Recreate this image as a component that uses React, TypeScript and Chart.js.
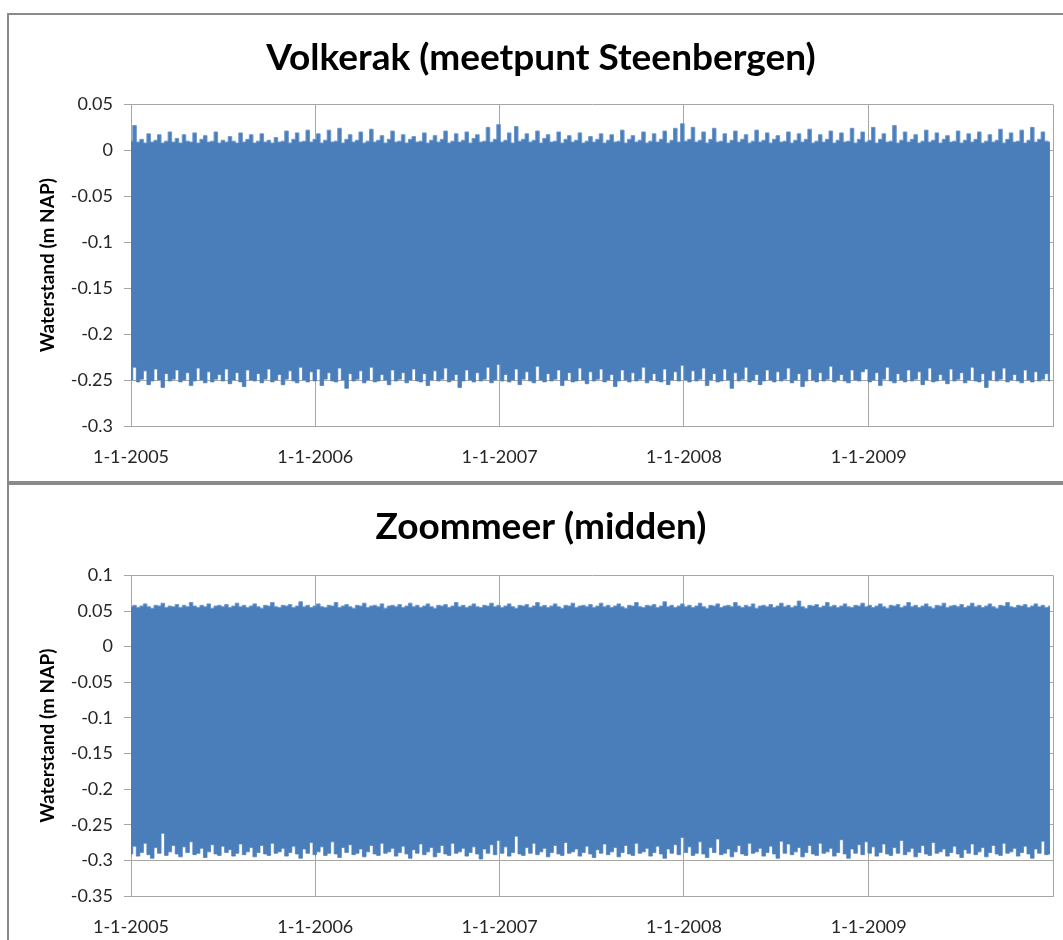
import { useEffect, useRef } from "react";
import { Chart, registerables } from "chart.js";

Chart.register(...registerables);

// x axis: days since 1-1-2005, one gridline per year
const YEAR_TICK_DAYS = [0, 365, 730, 1095, 1461, 1826];
const YEAR_TICK_LABELS = ["1-1-2005", "1-1-2006", "1-1-2007", "1-1-2008", "1-1-2009", ""];
const SAMPLE_STEP_DAYS = 7;

const VOLKERAK_TICKS = [-0.3, -0.25, -0.2, -0.15, -0.1, -0.05, 0, 0.05];
const ZOOMMEER_TICKS = [-0.35, -0.3, -0.25, -0.2, -0.15, -0.1, -0.05, 0, 0.05, 0.1];

// weekly highest / lowest water level, mm NAP
const VOLKERAK_HIGH = [
  10, 27, 9, 12, 8, 18, 9, 11, 17, 8, 10, 20, 9,
  13, 8, 17, 10, 9, 19, 8, 12, 16, 9, 10, 20, 8,
  11, 9, 15, 10, 8, 19, 9, 12, 17, 8, 10, 18, 9,
  11, 8, 14, 9, 10, 21, 8, 12, 19, 9, 10, 22, 9,
  12, 18, 8, 11, 22, 9, 10, 24, 8, 12, 17, 9, 11,
  20, 8, 10, 23, 9, 11, 16, 8, 12, 21, 9, 10, 17,
  8, 12, 15, 9, 10, 19, 8, 11, 16, 9, 12, 21, 8,
  10, 18, 9, 11, 20, 8, 13, 17, 9, 10, 25, 9, 12,
  28, 9, 11, 19, 8, 26, 10, 12, 18, 9, 11, 21, 8,
  13, 17, 9, 10, 20, 8, 12, 16, 9, 11, 19, 8, 10,
  15, 9, 12, 18, 8, 11, 17, 9, 10, 22, 8, 12, 16,
  9, 11, 20, 8, 10, 18, 9, 12, 21, 8, 11, 24, 9,
  29, 10, 12, 25, 9, 11, 20, 8, 12, 24, 9, 10, 18,
  8, 11, 21, 9, 12, 17, 8, 10, 22, 9, 11, 19, 8,
  12, 16, 9, 10, 20, 8, 11, 18, 9, 12, 23, 8, 10,
  17, 9, 12, 21, 8, 11, 19, 9, 10, 24, 8, 12, 20,
  9, 11, 25, 8, 12, 18, 9, 10, 27, 8, 11, 20, 9,
  12, 17, 8, 10, 22, 9, 11, 19, 8, 12, 16, 9, 10,
  21, 8, 11, 18, 9, 12, 20, 8, 10, 17, 9, 11, 23,
  8, 12, 19, 9, 10, 22, 8, 11, 25, 9, 12, 20, 10,
  9,
];

const VOLKERAK_LOW = [
  -250, -236, -252, -249, -240, -255, -251, -238, -250, -258, -243, -251, -249,
  -239, -252, -250, -242, -256, -251, -237, -250, -253, -241, -252, -249, -244,
  -251, -238, -254, -250, -242, -252, -257, -239, -250, -251, -243, -253, -249,
  -238, -252, -250, -244, -255, -249, -240, -251, -253, -236, -250, -252, -241,
  -251, -238, -256, -249, -242, -251, -252, -237, -250, -259, -243, -251, -249,
  -240, -253, -250, -236, -252, -251, -244, -250, -255, -239, -251, -249, -242,
  -253, -250, -238, -251, -252, -243, -256, -250, -240, -251, -249, -237, -252,
  -250, -244, -258, -251, -239, -250, -252, -242, -251, -249, -236, -253, -250,
  -233, -251, -244, -252, -250, -238, -255, -249, -241, -251, -253, -235, -250,
  -252, -243, -251, -249, -239, -256, -250, -242, -252, -251, -237, -250, -254,
  -241, -251, -249, -238, -252, -250, -244, -257, -251, -239, -250, -252, -242,
  -251, -249, -236, -253, -250, -243, -251, -252, -238, -255, -250, -241, -251,
  -234, -250, -252, -240, -251, -249, -237, -256, -250, -243, -252, -251, -238,
  -250, -259, -242, -251, -249, -236, -252, -250, -244, -255, -251, -239, -250,
  -252, -241, -251, -249, -237, -253, -250, -243, -257, -251, -238, -250, -252,
  -242, -251, -249, -235, -252, -250, -244, -251, -253, -239, -250, -251, -241,
  -238, -252, -250, -242, -256, -249, -236, -251, -253, -243, -250, -252, -239,
  -251, -249, -241, -255, -250, -237, -252, -251, -244, -250, -254, -238, -251,
  -249, -242, -253, -250, -236, -251, -252, -243, -258, -250, -240, -251, -249,
  -237, -252, -250, -244, -251, -253, -239, -250, -252, -241, -251, -249, -243,
  -251,
];

const ZOOMMEER_HIGH = [
  56, 58, 55, 57, 60, 56, 54, 58, 57, 61, 55, 57, 56,
  59, 55, 58, 56, 62, 57, 55, 58, 56, 60, 54, 57, 58,
  56, 59, 55, 57, 61, 56, 58, 55, 57, 60, 56, 54, 58,
  57, 62, 56, 55, 58, 57, 59, 55, 57, 63, 56, 58, 55,
  57, 60, 56, 55, 58, 57, 62, 55, 57, 59, 56, 54, 58,
  57, 61, 55, 57, 58, 56, 60, 54, 57, 58, 56, 59, 55,
  57, 61, 56, 58, 55, 57, 60, 56, 54, 58, 57, 59, 55,
  57, 62, 56, 58, 55, 57, 60, 56, 55, 58, 57, 61, 56,
  58, 55, 57, 60, 56, 54, 58, 57, 59, 55, 57, 62, 56,
  58, 55, 57, 60, 56, 54, 58, 57, 61, 55, 57, 58, 56,
  59, 55, 57, 61, 56, 58, 55, 57, 60, 56, 54, 58, 57,
  62, 56, 55, 58, 57, 59, 55, 57, 63, 56, 58, 55, 57,
  60, 56, 58, 55, 57, 61, 56, 54, 58, 57, 60, 55, 57,
  58, 56, 62, 57, 55, 58, 56, 60, 54, 57, 58, 56, 59,
  55, 57, 61, 56, 58, 55, 57, 64, 56, 54, 58, 57, 59,
  55, 57, 62, 56, 58, 55, 57, 60, 56, 55, 58, 57, 61,
  56, 58, 55, 57, 60, 56, 54, 58, 57, 59, 55, 57, 62,
  56, 58, 55, 57, 60, 56, 54, 58, 57, 61, 55, 57, 58,
  56, 59, 55, 57, 61, 56, 58, 55, 57, 60, 56, 54, 58,
  57, 62, 56, 55, 58, 57, 59, 55, 57, 60, 56, 58, 55,
  57,
];

const ZOOMMEER_LOW = [
  -291, -280, -294, -289, -276, -292, -297, -282, -290, -262, -293, -288, -279,
  -291, -295, -281, -289, -274, -292, -290, -283, -296, -288, -278, -291, -293,
  -280, -289, -285, -294, -290, -277, -292, -288, -282, -295, -289, -279, -291,
  -293, -276, -290, -288, -283, -294, -289, -280, -291, -297, -284, -290, -275,
  -292, -288, -281, -293, -290, -274, -291, -296, -282, -289, -278, -292, -290,
  -284, -295, -288, -279, -291, -293, -276, -290, -288, -283, -294, -289, -280,
  -291, -297, -285, -290, -277, -292, -288, -282, -295, -289, -279, -291, -293,
  -276, -290, -288, -283, -294, -289, -281, -291, -298, -284, -290, -278, -292,
  -272, -290, -281, -294, -289, -266, -291, -293, -282, -290, -276, -292, -288,
  -283, -295, -289, -279, -291, -293, -275, -290, -288, -284, -294, -289, -280,
  -291, -296, -285, -290, -277, -292, -288, -282, -295, -289, -279, -291, -293,
  -276, -290, -288, -283, -294, -289, -280, -291, -297, -284, -290, -278, -292,
  -268, -289, -281, -293, -290, -274, -291, -296, -282, -289, -270, -292, -290,
  -284, -295, -288, -279, -291, -293, -276, -290, -288, -283, -294, -289, -280,
  -291, -297, -273, -290, -277, -292, -288, -282, -295, -289, -279, -291, -293,
  -276, -290, -288, -283, -294, -289, -271, -291, -297, -284, -290, -278, -292,
  -274, -290, -281, -294, -289, -277, -291, -293, -282, -290, -272, -292, -288,
  -283, -295, -289, -279, -291, -293, -275, -290, -288, -284, -294, -289, -280,
  -291, -296, -285, -290, -277, -292, -288, -282, -295, -289, -279, -291, -293,
  -276, -290, -288, -283, -294, -289, -280, -291, -297, -284, -290, -273, -292,
  -291,
];

const FONT = "Lato, 'Open Sans', sans-serif";
const BLUE = "#4a7ebb";
const EDGE = "#6e97cb";
const GRID = "#a6a6a6";
const FRAME = "#8a8a8a";
const TICK_TEXT = "#262626";
const CANVAS_WIDTH = 1064;
const Y_AXIS_WIDTH = 122;
const PLOT_RIGHT_GAP = 20;

const toPoints = (mm: number[]) =>
  mm.map((v, i) => ({ x: i * SAMPLE_STEP_DAYS, y: v / 1000 }));

type PanelProps = {
  title: string;
  high: number[];
  low: number[];
  ticks: number[];
  height: number;
  xAxisHeight: number;
  titlePadTop: number;
  titlePadBottom: number;
};

function WaterLevelChart(props: PanelProps) {
  const ref = useRef<HTMLCanvasElement | null>(null);

  useEffect(() => {
    if (!ref.current) return;
    const { title, high, low, ticks, xAxisHeight, titlePadTop, titlePadBottom } = props;
    const chart = new Chart(ref.current, {
      type: "line",
      data: {
        datasets: [
          {
            label: "max",
            data: toPoints(high),
            borderColor: EDGE,
            backgroundColor: BLUE,
            borderWidth: 1,
            pointRadius: 0,
            stepped: "middle",
            fill: "+1",
          },
          {
            label: "min",
            data: toPoints(low),
            borderColor: EDGE,
            backgroundColor: BLUE,
            borderWidth: 1,
            pointRadius: 0,
            stepped: "middle",
            fill: false,
          },
        ],
      },
      options: {
        responsive: false,
        animation: false,
        devicePixelRatio: 1,
        layout: { padding: 0 },
        plugins: {
          legend: { display: false },
          tooltip: { enabled: false },
          title: {
            display: true,
            text: title,
            color: "#000",
            font: { family: FONT, size: 37, weight: "bold" },
            padding: { top: titlePadTop, bottom: titlePadBottom },
          },
        },
        scales: {
          x: {
            type: "linear",
            min: YEAR_TICK_DAYS[0],
            max: YEAR_TICK_DAYS[YEAR_TICK_DAYS.length - 1],
            afterBuildTicks: (s: any) => {
              s.ticks = YEAR_TICK_DAYS.map((v) => ({ value: v }));
            },
            afterFit: (s: any) => {
              s.height = xAxisHeight;
              s.paddingLeft = 0;
              s.paddingRight = PLOT_RIGHT_GAP;
            },
            ticks: {
              autoSkip: false,
              maxRotation: 0,
              padding: 20,
              color: TICK_TEXT,
              font: { family: FONT, size: 18 },
              callback: (_v: any, i: number) => YEAR_TICK_LABELS[i],
            },
            grid: { color: GRID, drawTicks: false },
            border: { color: GRID },
          },
          y: {
            min: ticks[0],
            max: ticks[ticks.length - 1],
            afterBuildTicks: (s: any) => {
              s.ticks = ticks.map((v) => ({ value: v }));
            },
            afterFit: (s: any) => {
              s.width = Y_AXIS_WIDTH;
            },
            ticks: {
              padding: 11,
              color: TICK_TEXT,
              font: { family: FONT, size: 18 },
              callback: (v: any) => String(v),
            },
            grid: { color: GRID, tickLength: 7 },
            border: { color: GRID },
            title: {
              display: true,
              text: "Waterstand (m NAP)",
              color: "#000",
              font: { family: FONT, size: 19, weight: "bold" },
              padding: { top: 27, bottom: 0 },
            },
          },
        },
      },
    } as any);
    return () => chart.destroy();
  }, []);

  return (
    <canvas
      ref={ref}
      width={CANVAS_WIDTH}
      height={props.height}
      style={{ display: "block", width: CANVAS_WIDTH, height: props.height }}
    />
  );
}

export default function App() {
  return (
    <div
      style={{
        position: "absolute",
        left: 0,
        top: 0,
        width: 1063,
        height: 940,
        overflow: "hidden",
        background: "#fff",
      }}
    >
      <div
        style={{
          position: "absolute",
          left: 7,
          top: 13,
          width: 1100,
          height: 466,
          borderLeft: `2px solid ${FRAME}`,
          borderTop: `2px solid ${FRAME}`,
          borderBottom: `2px solid ${FRAME}`,
        }}
      >
        <WaterLevelChart
          title="Volkerak (meetpunt Steenbergen)"
          high={VOLKERAK_HIGH}
          low={VOLKERAK_LOW}
          ticks={VOLKERAK_TICKS}
          height={466}
          xAxisHeight={55}
          titlePadTop={21}
          titlePadBottom={24}
        />
      </div>
      <div
        style={{
          position: "absolute",
          left: 7,
          top: 483,
          width: 1100,
          height: 470,
          borderLeft: `2px solid ${FRAME}`,
          borderTop: `2px solid ${FRAME}`,
        }}
      >
        <WaterLevelChart
          title="Zoommeer (midden)"
          high={ZOOMMEER_HIGH}
          low={ZOOMMEER_LOW}
          ticks={ZOOMMEER_TICKS}
          height={455}
          xAxisHeight={44}
          titlePadTop={20}
          titlePadBottom={26}
        />
      </div>
    </div>
  );
}
